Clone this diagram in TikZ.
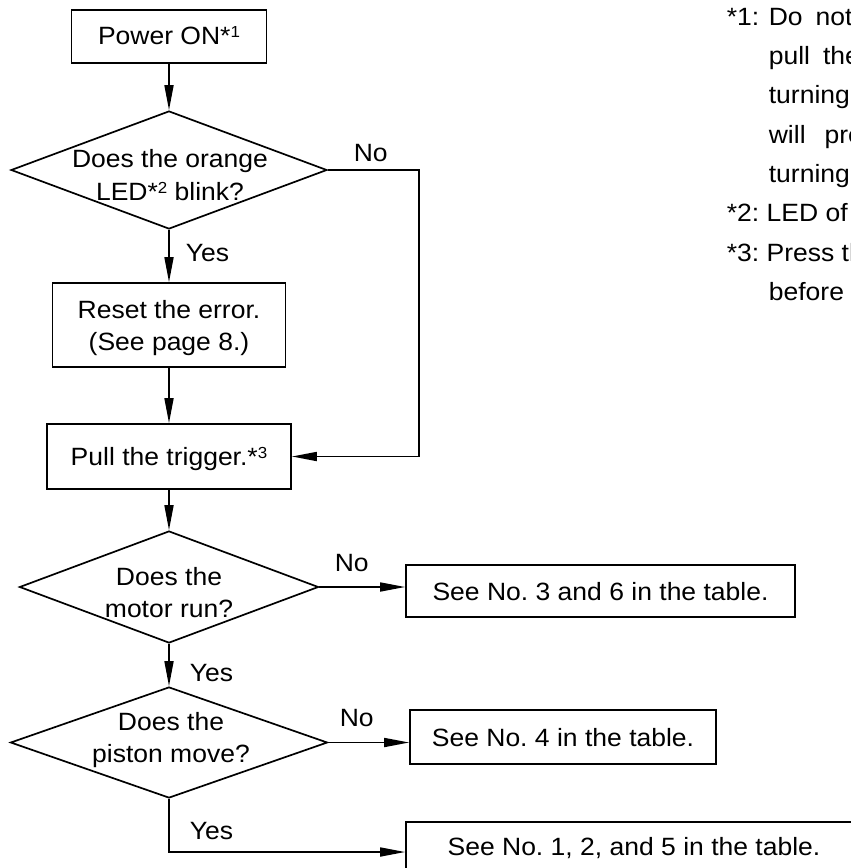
\documentclass[tikz,border=0pt]{standalone}
\usepackage{fontspec}
\setmainfont{Liberation Sans}[FakeStretch=1.06]
\usetikzlibrary{arrows.meta,shapes.geometric}
\newcommand\supx[1]{\raisebox{6.5pt}{\fontsize{16}{16}\selectfont #1}}
\frenchspacing
\begin{document}
\begin{tikzpicture}[x=1pt,y=-1pt, line width=1.7pt,
  box/.style={draw, rectangle, inner sep=0pt},
  dia/.style={draw, diamond, inner sep=0pt},
  txt/.style={anchor=base, inner sep=0pt, font=\fontsize{25}{30}\selectfont},
  lab/.style={anchor=base west, inner sep=0pt, font=\fontsize{25}{30}\selectfont},
  arr/.style={-{Triangle[length=25pt,width=9pt]}},
]
\useasboundingbox (0,0) rectangle (851,868);
\clip (0,0) rectangle (851,868);

% boxes and decisions
\node[box, minimum width=195pt, minimum height=53pt] (pw) at (169,36.5) {};
\node[dia, minimum width=316pt, minimum height=118pt] (d1) at (169,170) {};
\node[box, minimum width=233pt, minimum height=84pt] (rs) at (169,325) {};
\node[box, minimum width=244pt, minimum height=65pt] (pl) at (169,456.5) {};
\node[dia, minimum width=299pt, minimum height=112pt] (d2) at (169,587) {};
\node[box, minimum width=389pt, minimum height=52pt] (b2) at (600.5,591) {};
\node[dia, minimum width=317pt, minimum height=111pt] (d3) at (169,742.5) {};
\node[box, minimum width=306pt, minimum height=54pt] (b3) at (563,737) {};
\node[box, minimum width=456pt, minimum height=60pt] (b4) at (634,852) {};

% texts
\node[txt] (pwt) at (169,44.3) {Power ON*\supx{1}};
\node[txt] (d1a) at (170,167.7) {Does the orange};
\node[txt] (d1b) at (170,200) {LED*\supx{2} blink?};
\node[txt] (rsa) at (169,318.3) {Reset the error.};
\node[txt] (rsb) at (169,350) {(See page 8.)};
\node[txt] (plt) at (169,465) {Pull the trigger.*\supx{3}};
\node[txt] (d2a) at (169,585) {Does the};
\node[txt] (d2b) at (169,617) {motor run?};
\node[txt] (b2t) at (600.5,600) {See No. 3 and 6 in the table.};
\node[txt] (d3a) at (171,730.7) {Does the};
\node[txt] (d3b) at (171,762) {piston move?};
\node[txt] (b3t) at (563,746.7) {See No. 4 in the table.};
\node[txt] (b4t) at (634,855) {See No. 1, 2, and 5 in the table.};

% labels
\node[lab] (no1) at (353,161) {No};
\node[lab] (yes1) at (185,261.7) {Yes};
\node[lab] (no2) at (334,571.7) {No};
\node[lab] (yes2) at (189,681.7) {Yes};
\node[lab] (no3) at (339,726) {No};
\node[lab] (yes3) at (189,839.3) {Yes};

% connectors
\coordinate (nr) at (419,170);
\coordinate (yc) at (169,852);
\draw[arr] (pw.south) -- (d1.north);
\draw[arr] (d1.south) -- (rs.north);
\draw[arr] (rs.south) -- (pl.north);
\draw[arr] (d1.east) -- (nr) -- (nr |- pl.east) -- (pl.east);
\draw[arr] (pl.south) -- (d2.north);
\draw[arr] (d2.east) -- (d2.east -| b2.west);
\draw[arr] (d2.south) -- (d3.north);
\draw[arr] (d3.east) -- (d3.east -| b3.west);
\draw[arr] (d3.south) -- (yc) -- (b4.west);

% notes (clipped at the right edge, as in the reference)
\node[lab] (n1) at (726,25) {\makebox[42pt][l]{*1:}Do\hspace{13pt}not};
\node[lab] (n2) at (768,64.3) {pull\hspace{13pt}the};
\node[lab] (n3) at (768,103.6) {turning};
\node[lab] (n4) at (768,143) {will\hspace{19pt}prevent};
\node[lab] (n5) at (768,182.3) {turning};
\node[lab] (n6) at (726,221.6) {*2: LED of};
\node[lab] (n7) at (726,261) {*3: Press the};
\node[lab] (n8) at (768,300) {before};
\end{tikzpicture}
\end{document}
